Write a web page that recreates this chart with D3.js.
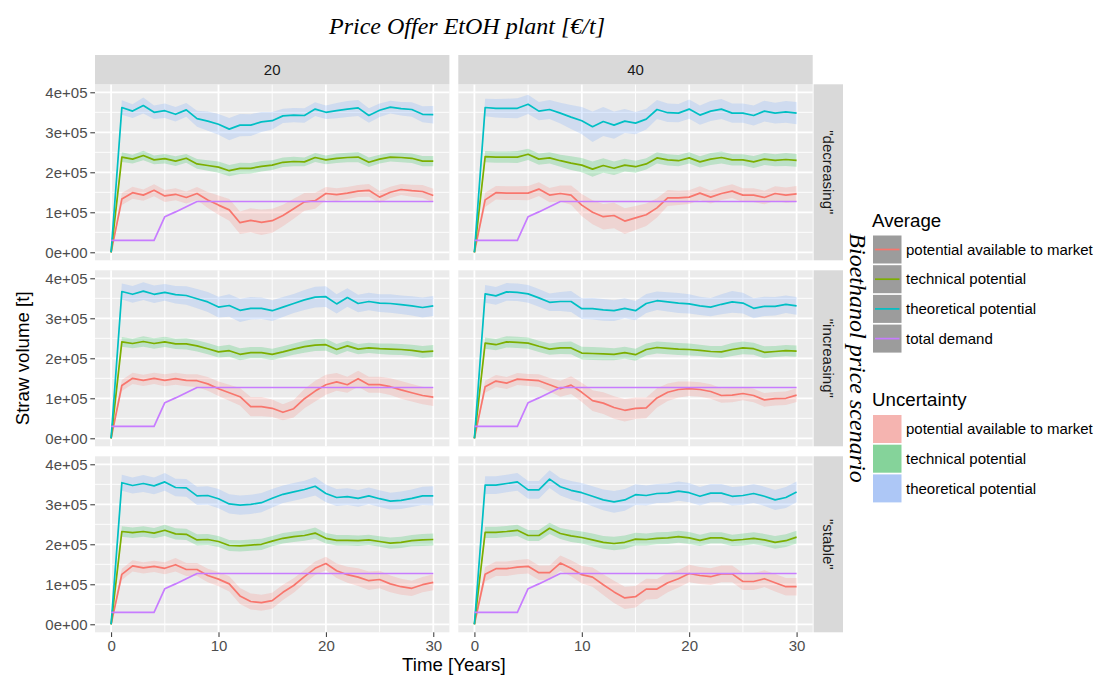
<!DOCTYPE html>
<html>
<head>
<meta charset="utf-8">
<script src="https://cdn.jsdelivr.net/npm/d3@7"></script>
<style>
  body { margin: 0; background: #fff; }
  svg { display: block; }
  text { font-family: "Liberation Sans", Arial, Helvetica, sans-serif; }
</style>
</head>
<body>
<svg id="chart" width="1098" height="677"></svg>
<script>
// ---- categories and ticks ----
const years = [0,1,2,3,4,5,6,7,8,9,10,11,12,13,14,15,16,17,18,19,20,21,22,23,24,25,26,27,28,29,30];
const priceOffers = ["20", "40"];
const scenarios = ['"decreasing"', '"increasing"', '"stable"'];
const xTickValues = [0, 10, 20, 30];
const yTickValues = [0, 100000, 200000, 300000, 400000];
const yTickLabels = ["0e+00", "1e+05", "2e+05", "3e+05", "4e+05"];
const averageNames = ["potential available to market", "technical potential", "theoretical potential", "total demand"];
const uncertaintyNames = ["potential available to market", "technical potential", "theoretical potential"];

// ---- average straw volumes, thousand tonnes per year ----
const demand = [30,30,30,30,30,89,101,114,127,127,127,127,127,127,127,127,127,127,127,127,127,127,127,127,127,127,127,127,127,127,127];

const market_20_decreasing = [0,133,149,143,155,141,145,137,147,131,118,106,74,80,75,79,92,109,126,129,147,144,148,153,155,138,150,157,154,152,142];
const tech_20_decreasing   = [0,238,233,242,231,234,228,235,221,217,213,204,210,210,215,218,225,227,226,237,231,235,237,238,225,233,238,237,235,228,228];
const theo_20_decreasing   = [0,362,353,367,350,354,345,356,334,328,320,308,318,318,326,329,341,343,342,358,350,354,358,361,342,355,363,359,357,345,344];

const market_40_decreasing = [0,131,149,148,148,148,158,143,147,143,118,100,89,92,78,86,94,111,136,136,138,148,138,147,153,143,143,137,147,143,146];
const tech_40_decreasing   = [0,239,238,238,238,245,233,236,229,223,218,208,217,210,218,214,221,236,231,229,236,226,233,237,231,231,226,233,230,232,230];
const theo_40_decreasing   = [0,362,360,360,360,370,353,357,348,338,329,314,327,318,328,323,333,357,349,348,358,343,353,358,348,348,342,353,348,351,348];

const market_20_increasing = [0,132,150,145,150,145,149,145,144,136,124,114,104,79,79,75,65,74,99,118,134,141,134,149,134,134,129,121,114,107,103];
const tech_20_increasing   = [0,241,237,242,237,241,236,236,231,224,216,219,210,214,214,210,216,223,229,233,234,222,231,223,226,224,223,222,220,216,218];
const theo_20_increasing   = [0,367,360,368,360,365,359,357,349,341,328,332,320,325,325,319,328,337,346,353,354,336,352,337,342,338,337,334,331,327,331];

const market_40_increasing = [0,129,143,138,148,146,144,134,124,133,115,94,88,77,70,75,76,101,115,122,124,122,117,107,108,112,107,96,99,100,108];
const tech_40_increasing   = [0,238,234,241,240,238,230,223,226,226,213,212,211,210,214,209,222,227,225,223,222,220,217,216,222,226,224,215,217,219,218];
const theo_40_increasing   = [0,361,356,366,365,361,351,340,342,342,324,324,321,319,325,319,337,344,341,338,336,331,328,335,341,338,325,330,330,335,331];

const market_20_stable = [0,125,146,141,145,140,149,137,137,122,113,101,71,57,54,59,80,97,119,140,152,134,124,118,109,112,101,94,90,99,105];
const tech_20_stable   = [0,232,229,232,228,235,226,225,211,212,207,197,196,198,200,208,215,219,222,228,215,210,210,209,211,207,203,205,209,211,212];
const theo_20_stable   = [0,354,347,352,346,356,342,341,321,322,314,301,298,300,304,315,325,331,337,345,327,317,319,315,321,314,308,310,315,321,321];

const market_40_stable = [0,125,139,139,143,145,129,129,153,140,124,118,99,81,66,69,88,88,104,114,127,122,119,126,126,107,107,114,104,94,94];
const tech_40_stable   = [0,230,230,232,235,222,222,240,227,221,217,211,205,202,205,213,212,215,216,219,216,210,216,216,210,212,215,211,205,209,218];
const theo_40_stable   = [0,348,348,352,356,336,336,363,344,335,329,320,311,306,311,324,322,327,328,333,329,320,328,328,320,322,327,320,311,317,331];

// ---- uncertainty half-widths, thousand tonnes ----
const marketSpread_20_decreasing = [0,15,15,14,15,15,15,15,16,20,24,27,28,30,32,30,27,25,22,20,16,16,15,15,16,15,14,14,15,16,17];
const techSpread_20_decreasing   = [0,12,11,12,11,12,12,11,12,13,14,14,14,13,13,12,12,12,11,11,11,12,12,13,12,11,11,12,12,13,13];
const theoSpread_20_decreasing   = [0,18,17,20,17,18,18,17,20,24,26,28,28,27,25,22,18,18,18,17,17,19,20,20,18,17,16,17,18,20,22];

const marketSpread_40_decreasing = [0,18,17,17,17,18,17,18,20,24,28,30,32,32,32,30,28,24,20,18,17,17,16,16,17,17,17,17,18,19,20];
const techSpread_40_decreasing   = [0,14,14,14,15,14,14,14,15,17,18,19,18,17,16,15,14,14,14,14,14,14,15,15,14,14,15,15,15,16,16];
const theoSpread_40_decreasing   = [0,22,23,24,25,24,23,24,26,30,34,38,36,34,30,28,26,24,23,23,24,24,25,25,24,24,25,26,26,27,28];

const marketSpread_20_increasing = [0,14,14,14,14,15,15,15,16,17,18,20,22,24,24,22,20,22,24,26,25,22,20,20,20,20,21,22,22,22,22];
const techSpread_20_increasing   = [0,12,12,13,13,13,13,14,14,14,14,15,15,14,14,14,14,14,15,15,15,14,13,13,13,13,14,14,14,15,15];
const theoSpread_20_increasing   = [0,20,21,22,22,21,22,23,24,25,26,28,29,28,27,26,25,24,25,26,26,24,23,22,22,22,23,23,24,25,25];

const marketSpread_40_increasing = [0,15,15,15,15,15,16,17,20,22,24,26,27,28,28,27,26,24,22,20,18,18,18,18,18,17,17,17,17,17,17];
const techSpread_40_increasing   = [0,14,14,14,14,14,14,14,15,16,16,16,16,15,15,15,15,15,15,15,15,14,14,15,16,16,15,15,14,14,14];
const theoSpread_40_increasing   = [0,22,22,22,22,22,22,22,24,26,26,27,27,26,25,24,24,23,24,25,24,23,23,25,27,26,25,24,23,22,22];

const marketSpread_20_stable = [0,14,14,14,14,15,17,16,16,17,18,19,20,20,20,20,19,18,17,17,17,18,20,22,23,22,21,20,19,19,20];
const techSpread_20_stable   = [0,13,13,13,13,14,14,14,14,14,14,14,14,14,14,13,13,13,13,14,13,13,13,13,13,13,14,14,14,15,15];
const theoSpread_20_stable   = [0,20,20,21,21,22,22,22,23,23,24,24,24,24,24,23,22,22,22,23,22,21,21,21,21,21,21,22,22,23,24];

const marketSpread_40_stable = [0,18,18,18,18,18,18,18,19,20,22,24,26,28,28,27,26,25,24,22,22,21,21,21,21,21,21,21,22,22,22];
const techSpread_40_stable   = [0,14,14,14,14,14,14,14,14,15,15,16,16,17,17,16,15,15,15,15,15,14,14,14,14,15,15,15,16,16,16];
const theoSpread_40_stable   = [0,22,22,22,22,22,22,22,22,23,24,25,26,27,27,26,25,24,24,24,24,23,23,23,23,23,24,24,25,26,26];

// ---- colours ----
const lineColors = ["#F8766D", "#7CAE00", "#00BFC4", "#C77CFF"];
const ribbonColors = ["#F8766D", "#00BA38", "#619CFF"];
const legendRibbonColors = ["#F5B4B0", "#85D39A", "#ADC7F6"];

const KT = 1000;

// one facet per (scenario, price offer)
const facets = [
  { row: 0, col: 0, avg: [market_20_decreasing, tech_20_decreasing, theo_20_decreasing], spread: [marketSpread_20_decreasing, techSpread_20_decreasing, theoSpread_20_decreasing] },
  { row: 0, col: 1, avg: [market_40_decreasing, tech_40_decreasing, theo_40_decreasing], spread: [marketSpread_40_decreasing, techSpread_40_decreasing, theoSpread_40_decreasing] },
  { row: 1, col: 0, avg: [market_20_increasing, tech_20_increasing, theo_20_increasing], spread: [marketSpread_20_increasing, techSpread_20_increasing, theoSpread_20_increasing] },
  { row: 1, col: 1, avg: [market_40_increasing, tech_40_increasing, theo_40_increasing], spread: [marketSpread_40_increasing, techSpread_40_increasing, theoSpread_40_increasing] },
  { row: 2, col: 0, avg: [market_20_stable, tech_20_stable, theo_20_stable], spread: [marketSpread_20_stable, techSpread_20_stable, theoSpread_20_stable] },
  { row: 2, col: 1, avg: [market_40_stable, tech_40_stable, theo_40_stable], spread: [marketSpread_40_stable, techSpread_40_stable, theoSpread_40_stable] }
];

// ---- layout ----
const colX = [95, 458.3];
const rowY = [84.3, 270.3, 456.3];
const pw = 354.4, ph = 176;
const stripTop = 55, stripH = 29.3;
const rightStripX = 813.6, rightStripW = 29.4;

const svg = d3.select("#chart");

const x = d3.scaleLinear().domain([-1.5, 31.5]).range([0, pw]);
const y = d3.scaleLinear().domain([-20000, 420000]).range([ph, 0]);

const xMinor = [5, 15, 25];
const yMinor = [50000, 150000, 250000, 350000];

const lineGen = d3.line().x((d, i) => x(years[i])).y(d => y(d * KT));

facets.forEach(f => {
  const g = svg.append("g").attr("transform", `translate(${colX[f.col]},${rowY[f.row]})`);
  g.append("rect").attr("width", pw).attr("height", ph).attr("fill", "#EBEBEB");

  // grid
  g.selectAll(".xminor").data(xMinor).enter().append("line")
    .attr("x1", d => x(d)).attr("x2", d => x(d)).attr("y1", 0).attr("y2", ph)
    .attr("stroke", "#fff").attr("stroke-width", 0.9);
  g.selectAll(".yminor").data(yMinor).enter().append("line")
    .attr("y1", d => y(d)).attr("y2", d => y(d)).attr("x1", 0).attr("x2", pw)
    .attr("stroke", "#fff").attr("stroke-width", 0.9);
  g.selectAll(".xmajor").data(xTickValues).enter().append("line")
    .attr("x1", d => x(d)).attr("x2", d => x(d)).attr("y1", 0).attr("y2", ph)
    .attr("stroke", "#fff").attr("stroke-width", 1.8);
  g.selectAll(".ymajor").data(yTickValues).enter().append("line")
    .attr("y1", d => y(d)).attr("y2", d => y(d)).attr("x1", 0).attr("x2", pw)
    .attr("stroke", "#fff").attr("stroke-width", 1.8);

  // uncertainty ribbons
  f.avg.forEach((series, s) => {
    const spread = f.spread[s];
    const area = d3.area()
      .x((d, i) => x(years[i]))
      .y0((d, i) => y((d - spread[i]) * KT))
      .y1((d, i) => y((d + spread[i]) * KT));
    g.append("path").datum(series).attr("d", area)
      .attr("fill", ribbonColors[s]).attr("fill-opacity", 0.2).attr("stroke", "none");
  });

  // averages
  f.avg.forEach((series, s) => {
    g.append("path").datum(series).attr("d", lineGen)
      .attr("fill", "none").attr("stroke", lineColors[s]).attr("stroke-width", 1.7)
      .attr("stroke-linejoin", "round");
  });
  g.append("path").datum(demand).attr("d", lineGen)
    .attr("fill", "none").attr("stroke", lineColors[3]).attr("stroke-width", 1.7)
    .attr("stroke-linejoin", "round");

  // y axis on the left column
  if (f.col === 0) {
    const ay = g.append("g").call(
      d3.axisLeft(y).tickValues(yTickValues).tickFormat((d, i) => yTickLabels[i])
        .tickSize(4.7).tickPadding(2.8));
    ay.select(".domain").remove();
    ay.selectAll("line").attr("stroke", "#333333").attr("stroke-width", 1);
    ay.selectAll("text").attr("fill", "#4D4D4D").style("font-size", "15px")
      .style("font-family", '"Liberation Sans", Arial, sans-serif');
  }
  // x axis on the bottom row
  if (f.row === 2) {
    const ax = g.append("g").attr("transform", `translate(0,${ph})`).call(
      d3.axisBottom(x).tickValues(xTickValues).tickFormat(d3.format("d"))
        .tickSize(4.7).tickPadding(3.3));
    ax.select(".domain").remove();
    ax.selectAll("line").attr("stroke", "#333333").attr("stroke-width", 1);
    ax.selectAll("text").attr("fill", "#4D4D4D").style("font-size", "15px")
      .style("font-family", '"Liberation Sans", Arial, sans-serif');
  }
});

// top strips
priceOffers.forEach((p, c) => {
  svg.append("rect").attr("x", colX[c]).attr("y", stripTop).attr("width", pw).attr("height", stripH)
    .attr("fill", "#D9D9D9");
  svg.append("text").attr("x", colX[c] + pw / 2).attr("y", stripTop + stripH / 2)
    .attr("dy", "0.35em").attr("text-anchor", "middle")
    .attr("fill", "#1A1A1A").style("font-size", "15px").text(p);
});

// right strips
scenarios.forEach((s, r) => {
  svg.append("rect").attr("x", rightStripX).attr("y", rowY[r]).attr("width", rightStripW).attr("height", ph)
    .attr("fill", "#D9D9D9");
  const cx = rightStripX + rightStripW / 2, cy = rowY[r] + ph / 2;
  svg.append("text").attr("transform", `translate(${cx},${cy}) rotate(90)`)
    .attr("dy", "0.35em").attr("text-anchor", "middle")
    .attr("fill", "#1A1A1A").style("font-size", "15px").text(s);
});

// titles
svg.append("text").attr("x", 467).attr("y", 34).attr("text-anchor", "middle")
  .style("font-family", '"Liberation Serif", "Times New Roman", serif')
  .style("font-style", "italic").style("font-size", "24px").attr("fill", "#000")
  .text("Price Offer EtOH plant [€/t]");

svg.append("text").attr("transform", `translate(858,358) rotate(90)`)
  .attr("dy", "0.35em").attr("text-anchor", "middle")
  .style("font-family", '"Liberation Serif", "Times New Roman", serif')
  .style("font-style", "italic").style("font-size", "24px").attr("fill", "#000")
  .text("Bioethanol price scenario");

svg.append("text").attr("x", colX[0] + (colX[1] + pw - colX[0]) / 2).attr("y", 671)
  .attr("text-anchor", "middle").style("font-size", "18.7px").attr("fill", "#000")
  .text("Time [Years]");

svg.append("text").attr("transform", `translate(22,${rowY[0] + (rowY[2] + ph - rowY[0]) / 2}) rotate(-90)`)
  .attr("dy", "0.35em").attr("text-anchor", "middle").style("font-size", "18.7px").attr("fill", "#000")
  .text("Straw volume [t]");

// legends
const keyX = 873, keyW = 28.5, keyH = 28, keyStep = 29.7;
const legAvg = svg.append("g");
legAvg.append("text").attr("x", 872).attr("y", 227).style("font-size", "18.7px").attr("fill", "#000").text("Average");
averageNames.forEach((n, i) => {
  const ky = 235.5 + i * keyStep;
  legAvg.append("rect").attr("x", keyX).attr("y", ky).attr("width", keyW).attr("height", keyH)
    .attr("fill", "#9C9C9C");
  legAvg.append("line").attr("x1", keyX + 2).attr("x2", keyX + keyW - 2)
    .attr("y1", ky + keyH / 2).attr("y2", ky + keyH / 2)
    .attr("stroke", lineColors[i]).attr("stroke-width", 1.7);
  legAvg.append("text").attr("x", 906).attr("y", ky + keyH / 2).attr("dy", "0.35em")
    .style("font-size", "15px").attr("fill", "#000").text(n);
});

const legUnc = svg.append("g");
legUnc.append("text").attr("x", 872).attr("y", 406).style("font-size", "18.7px").attr("fill", "#000").text("Uncertainty");
uncertaintyNames.forEach((n, i) => {
  const ky = 415 + i * keyStep;
  legUnc.append("rect").attr("x", keyX).attr("y", ky).attr("width", keyW).attr("height", keyH)
    .attr("fill", legendRibbonColors[i]);
  legUnc.append("text").attr("x", 906).attr("y", ky + keyH / 2).attr("dy", "0.35em")
    .style("font-size", "15px").attr("fill", "#000").text(n);
});
</script>
</body>
</html>
